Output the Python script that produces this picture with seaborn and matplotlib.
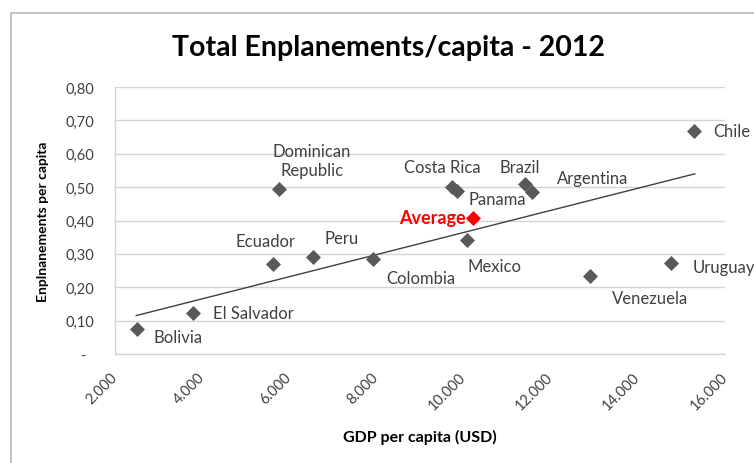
import matplotlib
matplotlib.use("Agg")
import matplotlib.pyplot as plt
import matplotlib.ticker as mticker
from matplotlib.patches import Rectangle
import seaborn as sns
import pandas as pd

# ---- data ----
countries = ["Bolivia", "El Salvador", "Ecuador", "Dominican\nRepublic", "Peru",
             "Colombia", "Costa Rica", "Panama", "Mexico", "Brazil", "Argentina",
             "Venezuela", "Uruguay", "Chile"]
gdp = [2505, 3790, 5626, 5764, 6545, 7921, 9735, 9850, 10079, 11410, 11571,
       12902, 14761, 15289]
enpl = [0.076, 0.124, 0.271, 0.495, 0.292, 0.286, 0.501, 0.489, 0.342, 0.510,
        0.486, 0.235, 0.274, 0.668]
avg_label = "Average"
avg_gdp = [10217]
avg_enpl = [0.408]
trend_gdp = [2482, 15312]
trend_enpl = [0.115, 0.540]
x_ticks = [2000, 4000, 6000, 8000, 10000, 12000, 14000, 16000]
y_ticks = [0.0, 0.1, 0.2, 0.3, 0.4, 0.5, 0.6, 0.7, 0.8]

# ---- label placement (pixel offsets, style only) ----
label_offsets = {
    "Bolivia": (16, -8, "left"),
    "El Salvador": (20, 0, "left"),
    "Ecuador": (-7, 23, "center"),
    "Dominican\nRepublic": (33, 28, "center"),
    "Peru": (29, 19, "center"),
    "Colombia": (48, -19, "center"),
    "Costa Rica": (-10, 20, "center"),
    "Panama": (40, -8, "center"),
    "Mexico": (27, -26, "center"),
    "Brazil": (-5, 17, "center"),
    "Argentina": (61, 14, "center"),
    "Venezuela": (60, -22, "center"),
    "Uruguay": (22, -4, "left"),
    "Chile": (19, 0, "left"),
}

sns.set_theme(style="white")
plt.rcParams["font.family"] = ["Lato", "DejaVu Sans"]

df = pd.DataFrame({"country": countries, "gdp": gdp, "enpl": enpl})
avg_df = pd.DataFrame({"gdp": avg_gdp, "enpl": avg_enpl})
trend_df = pd.DataFrame({"gdp": trend_gdp, "enpl": trend_enpl})

fig = plt.figure(figsize=(7.54, 4.64), dpi=100)
ax = fig.add_axes([115 / 754, 1 - 355 / 464, (725 - 115) / 754, (355 - 88) / 464])

# outer chart border
fig.patches.append(Rectangle((11 / 754, -0.1), 1.2, 1 - 14 / 464 + 0.1,
                             transform=fig.transFigure, fill=False,
                             edgecolor="#bfbfbf", linewidth=1.3))

sns.lineplot(data=trend_df, x="gdp", y="enpl", ax=ax, color="#404040",
             linewidth=1.0, zorder=2)
sns.scatterplot(data=df, x="gdp", y="enpl", ax=ax, marker="D", s=50,
                color="#595959", edgecolor="#595959", zorder=3)
sns.scatterplot(data=avg_df, x="gdp", y="enpl", ax=ax, marker="D", s=50,
                color="#ff0000", edgecolor="#ff0000", zorder=4)

for c, x, y in zip(countries, gdp, enpl):
    dx, dy, ha = label_offsets[c]
    ax.annotate(c, (x, y), xytext=(dx, dy), textcoords="offset pixels",
                ha=ha, va="center", fontsize=12, color="#404040",
                linespacing=1.2, annotation_clip=False)
ax.annotate(avg_label, (avg_gdp[0], avg_enpl[0]), xytext=(-7, 0),
            textcoords="offset pixels", ha="right", va="center",
            fontsize=13, color="#ff0000", fontweight="bold")

ax.set_xlim(2000, 16000)
ax.set_ylim(0, 0.8)
ax.set_xticks(x_ticks)
ax.set_yticks(y_ticks)
ax.xaxis.set_major_formatter(mticker.FuncFormatter(lambda v, p: f"{int(v):,}".replace(",", ".")))
ax.yaxis.set_major_formatter(mticker.FuncFormatter(
    lambda v, p: "-  " if abs(v) < 1e-9 else f"{v:.2f}".replace(".", ",")))
ax.yaxis.grid(True, color="#d4d4d4", linewidth=1.0)
ax.set_axisbelow(True)
for s in ["top", "right"]:
    ax.spines[s].set_visible(False)
for s in ["left", "bottom"]:
    ax.spines[s].set_color("#d4d4d4")
    ax.spines[s].set_linewidth(1.0)

ax.tick_params(axis="y", length=0, pad=15, labelsize=10.5, labelcolor="#404040")
ax.tick_params(axis="x", length=0, pad=15, labelsize=10.5, labelcolor="#404040")
for lab in ax.get_xticklabels():
    lab.set_rotation(45)
    lab.set_ha("right")
    lab.set_va("center")
    lab.set_rotation_mode("anchor")

ax.set_xlabel("GDP per capita (USD)", fontsize=11.5, fontweight="bold",
              color="#000000", labelpad=12)
ax.set_ylabel("Enplnanements per capita", fontsize=10, fontweight="bold",
              color="#000000", labelpad=12)

fig.text(388 / 754, 1 - 48 / 464, "Total Enplanements/capita - 2012",
         ha="center", va="center", fontsize=20.5, fontweight="bold", color="#000000")

fig.savefig("out.png", dpi=100)
